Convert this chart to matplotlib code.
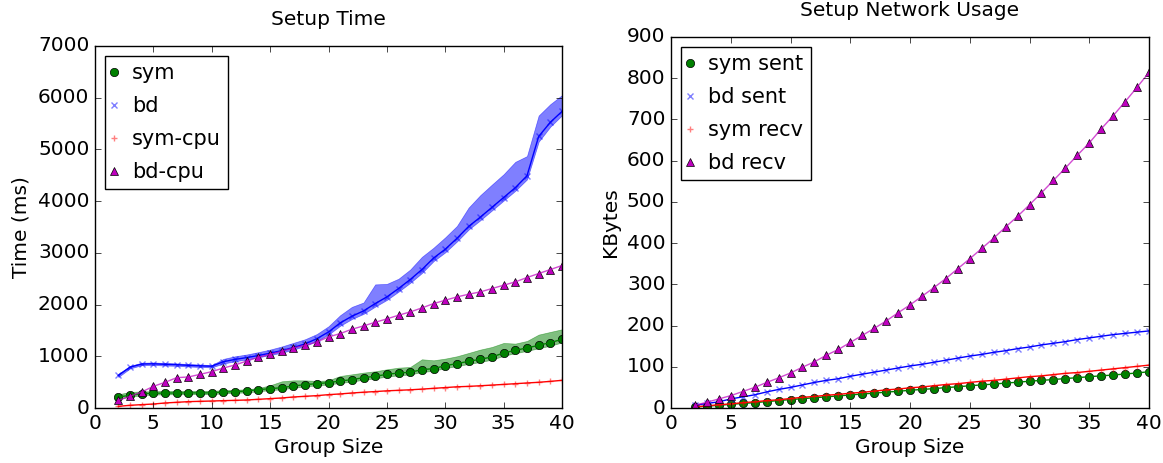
import matplotlib
matplotlib.use("Agg")
import matplotlib.pyplot as plt

groups = list(range(2, 41))

# Setup time (ms)
sym_time = [213, 245, 277, 284, 290, 290, 292, 292, 292,
            310, 316, 329, 355, 374, 393, 426, 452, 471, 490,
            522, 548, 587, 613, 651, 677, 690, 742, 761, 819,
            858, 903, 942, 987, 1064, 1116, 1161, 1213, 1264, 1329]
sym_hi = [265, 310, 320, 325, 328, 330, 330, 330, 332,
          345, 352, 362, 385, 439, 516, 535, 535, 522, 535,
          619, 651, 684, 710, 748, 780, 793, 942, 922, 955,
          1000, 1064, 1129, 1180, 1258, 1245, 1296, 1419, 1471, 1522]
sym_lo = [180, 215, 250, 258, 265, 266, 268, 268, 268,
          285, 292, 303, 325, 345, 362, 392, 418, 438, 455,
          485, 510, 548, 572, 608, 632, 648, 698, 718, 772,
          810, 852, 890, 935, 1010, 1060, 1105, 1155, 1205, 1268]
bd_time = [630, 790, 850, 855, 845, 838, 825, 815, 808,
           895, 940, 975, 1015, 1060, 1110, 1170, 1240, 1340, 1470,
           1645, 1774, 1877, 2019, 2148, 2310, 2484, 2677, 2900, 3070,
           3280, 3510, 3690, 3880, 4070, 4260, 4490, 5250, 5525, 5735]
bd_hi = [660, 815, 875, 880, 870, 862, 850, 840, 830,
         950, 1000, 1035, 1080, 1130, 1190, 1260, 1330, 1430, 1580,
         1794, 1955, 2040, 2390, 2400, 2500, 2677, 2923, 3100, 3300,
         3520, 3875, 4115, 4320, 4520, 4760, 4871, 5655, 5875, 6050]
bd_lo = [600, 765, 828, 832, 822, 815, 803, 793, 786,
         860, 905, 940, 980, 1025, 1070, 1130, 1200, 1295, 1420,
         1590, 1720, 1820, 1960, 2090, 2250, 2420, 2610, 2840, 3010,
         3220, 3450, 3630, 3820, 4010, 4200, 4420, 5150, 5440, 5660]
sym_cpu = [32, 52, 65, 77, 97, 110, 123, 129, 135,
           142, 148, 155, 168, 181, 194, 213, 226, 239, 258,
           272, 290, 305, 318, 332, 342, 352, 365, 380, 395,
           410, 418, 430, 443, 456, 470, 484, 497, 515, 535]
bd_cpu = [148, 226, 310, 419, 497, 587, 600, 651, 703,
          774, 832, 909, 980, 1038, 1097, 1161, 1213, 1277, 1374,
          1439, 1523, 1587, 1658, 1723, 1794, 1858, 1935, 2019, 2084,
          2148, 2200, 2245, 2310, 2374, 2439, 2523, 2600, 2677, 2755]

# Network usage (KBytes)
sym_sent = [2.5, 4.5, 6.5, 9, 11, 13, 15.5, 18, 20.5,
            22.5, 25, 27, 29.5, 31.5, 34, 36, 38.5, 40.5, 43,
            45, 47, 49.5, 51.5, 54, 56, 58, 60.5, 62.5, 65,
            67, 69, 71.5, 73.5, 76, 78, 80, 82.5, 85, 88]
bd_sent = [6.5, 11, 15, 22, 27, 32, 39, 45, 50,
           56, 62, 67, 71, 77, 82, 87, 92, 97, 102,
           106, 111, 116, 121, 126, 130, 135, 139, 144, 148,
           153, 157, 161, 166, 170, 174, 178, 181, 184, 187]
sym_recv = [3, 5, 8, 10, 13, 15, 18, 20, 23,
            26, 28, 31, 33, 36, 38, 41, 44, 46, 49,
            51, 54, 57, 59, 62, 65, 67, 70, 73, 76,
            78, 81, 84, 86, 89, 92, 95, 98, 101, 104]
bd_recv = [6.5, 14, 22, 30, 40, 50, 62, 73, 85,
           99, 112, 128, 142, 159, 176, 193, 211, 231, 250,
           271, 292, 314, 338, 362, 387, 412, 439, 465, 493,
           522, 552, 582, 613, 643, 677, 709, 743, 778, 814]

plt.style.use("classic")
plt.rcParams["figure.facecolor"] = "white"
plt.rcParams["savefig.facecolor"] = "white"
plt.rcParams["font.family"] = "DejaVu Sans"
plt.rcParams["font.size"] = 14.5

fig = plt.figure(figsize=(11.63, 4.63), dpi=100)
W, H = 1163.0, 463.0
ax1 = fig.add_axes([95 / W, (H - 408) / H, 467 / W, 362 / H])
ax2 = fig.add_axes([671 / W, (H - 408) / H, 478 / W, 371 / H])


def series(ax, y, color, marker, label, lo=None, hi=None, malpha=1.0, lalpha=1.0):
    if lo is not None:
        ax.fill_between(groups, lo, hi, color=color, alpha=0.5, linewidth=0.5, edgecolor=color)
    solid = marker in ("o", "^")
    ax.plot(groups, y, marker, color=color, markersize=6 if solid else 5, alpha=malpha,
            markeredgecolor="k" if solid else color,
            markeredgewidth=0.5 if solid else 1.0,
            linestyle="none", label=label)
    ax.plot(groups, y, "-", color=color, alpha=lalpha, linewidth=1.0)


def finish_legend(ax):
    ax.legend(loc="upper left", numpoints=1, markerscale=1.0, fontsize=15,
              borderpad=0.35, labelspacing=0.62, handlelength=0.2,
              handletextpad=0.75, borderaxespad=0.48)


series(ax1, sym_time, "g", "o", "sym", sym_lo, sym_hi)
series(ax1, bd_time, "b", "x", "bd", bd_lo, bd_hi, malpha=0.5)
series(ax1, sym_cpu, "r", "+", "sym-cpu", malpha=0.5)
series(ax1, bd_cpu, "m", "^", "bd-cpu", lalpha=0.7)

ax1.set_xlim(0, 40)
ax1.set_ylim(0, 7000)
ax1.set_title("Setup Time", fontsize=14.5, pad=15)
ax1.set_xlabel("Group Size", labelpad=4)
ax1.set_ylabel("Time (ms)")
finish_legend(ax1)

series(ax2, sym_sent, "g", "o", "sym sent")
series(ax2, bd_sent, "b", "x", "bd sent", malpha=0.5)
series(ax2, sym_recv, "r", "+", "sym recv", malpha=0.5)
series(ax2, bd_recv, "m", "^", "bd recv", lalpha=0.7)

ax2.set_xlim(0, 40)
ax2.set_ylim(0, 900)
ax2.set_title("Setup Network Usage", fontsize=14.5, pad=15)
ax2.set_xlabel("Group Size", labelpad=4)
ax2.set_ylabel("KBytes")
finish_legend(ax2)

fig.savefig("out.png", dpi=100)
